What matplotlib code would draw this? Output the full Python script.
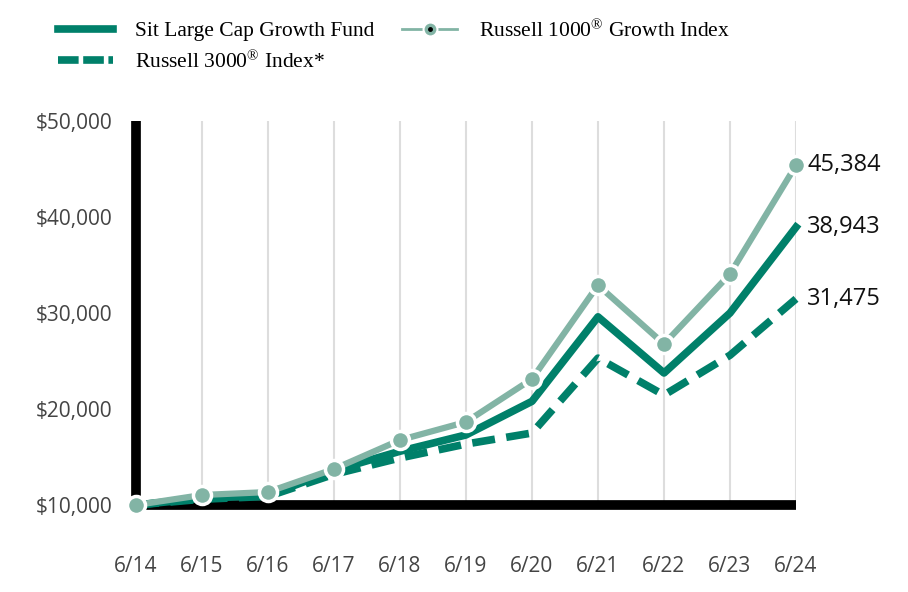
import matplotlib
matplotlib.use("Agg")
import matplotlib.pyplot as plt
from matplotlib.lines import Line2D

plt.rcParams["mathtext.fontset"] = "custom"
plt.rcParams["mathtext.rm"] = "Liberation Serif"
plt.rcParams["mathtext.it"] = "Liberation Serif:italic"
plt.rcParams["mathtext.bf"] = "Liberation Serif:bold"

years = ["6/14", "6/15", "6/16", "6/17", "6/18", "6/19", "6/20", "6/21", "6/22", "6/23", "6/24"]
fund = [10000, 10700, 11000, 13600, 15600, 17300, 20800, 29600, 23750, 30000, 38943]
r1000g = [10000, 11040, 11350, 13750, 16770, 18650, 23125, 32900, 26770, 34060, 45384]
r3000 = [10000, 10600, 10900, 13200, 14900, 16350, 17500, 25300, 21450, 25600, 31475]
yticks = [10000, 20000, 30000, 40000, 50000]
ytick_labels = ["$10,000", "$20,000", "$30,000", "$40,000", "$50,000"]
end_labels = ["38,943", "45,384", "31,475"]

DARK = "#00806A"
LIGHT = "#82B4A5"

fig = plt.figure(figsize=(9.08, 5.92), dpi=100)
ax = fig.add_axes([136/908, 1-505/592, 660/908, 384/592])
x = list(range(len(years)))

for xi in x:
    ax.axvline(xi, color="#dddddd", lw=1.5, zorder=0)

ax.plot(x, r3000, color=DARK, lw=5.5, ls=(0, (3.0, 1.5)), zorder=3, clip_on=False,
        dash_capstyle="butt")
ax.plot(x, fund, color=DARK, lw=5.5, zorder=4, clip_on=False)
ax.plot(x, r1000g, color=LIGHT, lw=4.5, marker="o", ms=13, mfc=LIGHT, mec="white", mew=2.5,
        zorder=5, clip_on=False)

ax.set_xlim(0, 10)
ax.set_ylim(10000, 50000)
for s in ["top", "right"]:
    ax.spines[s].set_visible(False)
for s in ["left", "bottom"]:
    ax.spines[s].set_linewidth(7)
    ax.spines[s].set_zorder(2)
    ax.spines[s].set_capstyle("butt")
ax.set_yticks(yticks)
ax.set_yticklabels(ytick_labels)
ax.set_xticks(x)
ax.set_xticklabels(years)
ax.tick_params(axis="both", length=0)
ax.tick_params(axis="x", pad=37)
ax.tick_params(axis="y", pad=17)
for lab in ax.get_xticklabels() + ax.get_yticklabels():
    lab.set_fontfamily("Open Sans")
    lab.set_fontsize(15)
    lab.set_color("#444444")

for val, lab in zip([fund[-1], r1000g[-1], r3000[-1]], end_labels):
    ax.annotate(lab, (10, val), xytext=(8, 0), textcoords="offset points",
                va="center", ha="left", fontsize=17, family="Open Sans", color="#111111",
                annotation_clip=False)

h_fund = Line2D([0], [0], color=DARK, lw=5.5)
h_r3000 = Line2D([0], [0], color=DARK, lw=5.5, ls=(0, (2.7, 0.6)), dash_capstyle="butt")
h_r1000 = (Line2D([0], [0], color=LIGHT, lw=2, marker="o", ms=10, mfc=LIGHT, mec="white", mew=1.5),
           Line2D([0], [0], ls="none", marker="o", ms=2.5, mfc="black", mec="black"))
handles = [h_fund, h_r3000, h_r1000]
labels = ["Sit Large Cap Growth Fund",
          "Russell 3000$^{\\mathrm{\u00ae}}$ Index*",
          "Russell 1000$^{\\mathrm{\u00ae}}$ Growth Index"]
leg = fig.legend(handles, labels, loc="upper left", bbox_to_anchor=(0.043, 1.0), ncol=2,
                 frameon=False, prop={"family": "Liberation Serif", "size": 15.5},
                 handlelength=2.55, columnspacing=1.3, labelspacing=0.42, handletextpad=1.0)

fig.savefig("out.png", dpi=100)
